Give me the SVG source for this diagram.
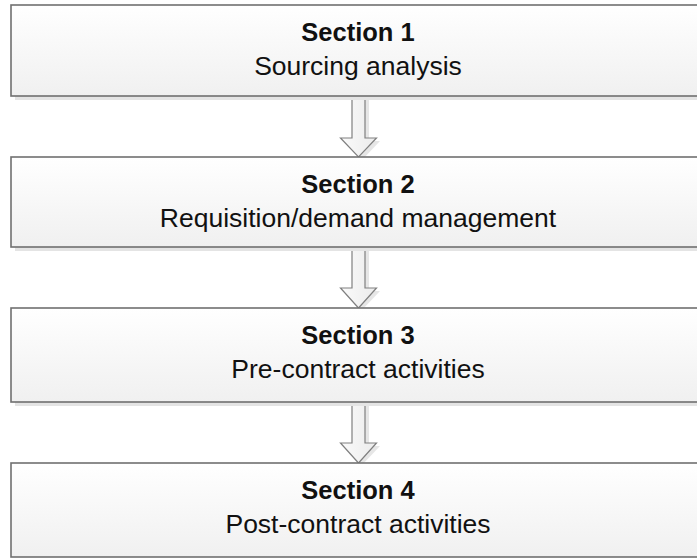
<svg xmlns="http://www.w3.org/2000/svg" width="697" height="558" viewBox="0 0 697 558">
<defs>
<linearGradient id="boxg" x1="0" y1="0" x2="0" y2="1">
<stop offset="0" stop-color="#ffffff"/>
<stop offset="1" stop-color="#f0f0f0"/>
</linearGradient>
<linearGradient id="arrg" x1="0" y1="0" x2="1" y2="0">
<stop offset="0" stop-color="#fafafa"/>
<stop offset="1" stop-color="#ececec"/>
</linearGradient>
</defs>
<style>
.box{fill:url(#boxg);stroke:#707070;stroke-width:1.6}
.shadow{fill:#e4e4e4}
.arr{fill:url(#arrg);stroke:#808080;stroke-width:1.2;stroke-linejoin:miter}
.arrsh{fill:#e6e6e6}
.t{font-family:"Liberation Sans",Arial,sans-serif;font-size:26.5px;fill:#111;text-anchor:middle}
.b{font-weight:bold;font-size:25.5px}
</style>
<rect width="697" height="558" fill="#ffffff"/>
<g id="connectors">
<polygon class="arrsh" points="356,99 369,99 369,141 380,141 362,160 344,141 356,141"/>
<polygon class="arr" points="352,96 365,96 365,138 376.5,138 358.5,157 340.5,138 352,138"/>
<polygon class="arrsh" points="356,250 369,250 369,291 380,291 362,310 344,291 356,291"/>
<polygon class="arr" points="352,247 365,247 365,288 376.5,288 358.5,308 340.5,288 352,288"/>
<polygon class="arrsh" points="356,405 369,405 369,446 380,446 362,465 344,446 356,446"/>
<polygon class="arr" points="352,402 365,402 365,443 376.5,443 358.5,463 340.5,443 352,443"/>
</g>
<g id="node1">
<rect class="shadow" x="15" y="96" width="690" height="4"/>
<rect class="box" x="11" y="5" width="694" height="91"/>
<text class="t b" x="358" y="41">Section 1</text>
<text class="t" x="358" y="75">Sourcing analysis</text>
</g>
<g id="node2">
<rect class="shadow" x="15" y="247" width="690" height="4"/>
<rect class="box" x="11" y="157" width="694" height="90"/>
<text class="t b" x="358" y="193">Section 2</text>
<text class="t" x="358" y="227">Requisition/demand management</text>
</g>
<g id="node3">
<rect class="shadow" x="15" y="402" width="690" height="4"/>
<rect class="box" x="11" y="308" width="694" height="94"/>
<text class="t b" x="358" y="344">Section 3</text>
<text class="t" x="358" y="378">Pre-contract activities</text>
</g>
<g id="node4">
<rect class="box" x="11" y="463" width="694" height="94"/>
<text class="t b" x="358" y="499">Section 4</text>
<text class="t" x="358" y="533">Post-contract activities</text>
</g>
</svg>
